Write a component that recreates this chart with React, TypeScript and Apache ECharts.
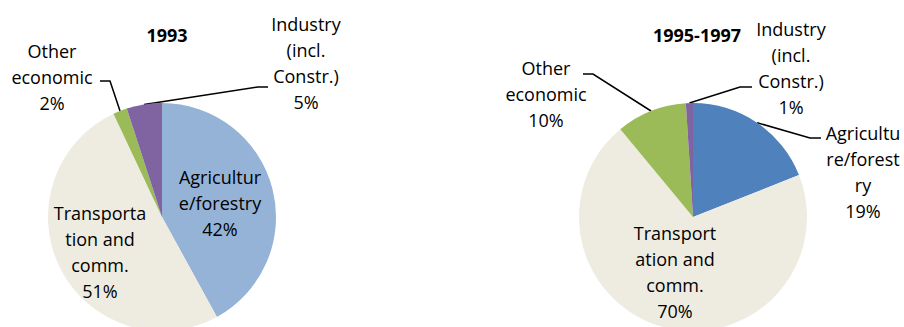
import React, { useEffect, useRef } from "react";
import * as echarts from "echarts";

const titles = ["1993", "1995-1997"];
const categories = [
  "Agriculture/forestry",
  "Transportation and comm.",
  "Other economic",
  "Industry (incl. Constr.)",
];
// Wrapped label text as shown in each pie
const labels1993 = ["Agricultur\ne/forestry", "Transporta\ntion and\ncomm.", "Other\neconomic", "Industry\n(incl.\nConstr.)"];
const labels1995 = ["Agricultu\nre/forest\nry", "Transport\nation and\ncomm.", "Other\neconomic", "Industry\n(incl.\nConstr.)"];
const values1993 = [42, 51, 2, 5];
const values1995 = [19, 70, 10, 1];

const colors1993 = ["#95B3D7", "#EEECE1", "#9BBB59", "#8064A2"];
const colors1995 = ["#4F81BD", "#EEECE1", "#9BBB59", "#8064A2"];

type Place = { x: number; y: number; elbow?: number[]; end?: number[] };
const place1993: Place[] = [
  { x: 220, y: 203 },
  { x: 100, y: 252 },
  { x: 52, y: 77, elbow: [110, 81], end: [100, 81] },
  { x: 306, y: 63, elbow: [258, 87], end: [268, 87] },
];
const place1995: Place[] = [
  { x: 863, y: 172, elbow: [810, 138], end: [821, 138] },
  { x: 675, y: 272 },
  { x: 546, y: 94, elbow: [593, 74], end: [583, 74] },
  { x: 791, y: 68, elbow: [740, 87], end: [752, 87] },
];

const FONT = "'Open Sans', 'Liberation Sans', sans-serif";

function makeSeries(
  values: number[],
  labels: string[],
  colors: string[],
  center: string[],
  place: Place[]
) {
  return {
    type: "pie",
    center,
    radius: 114,
    startAngle: 90,
    clockwise: true,
    avoidLabelOverlap: false,
    silent: true,
    itemStyle: { borderWidth: 0 },
    label: {
      color: "#000",
      fontFamily: FONT,
      fontSize: 18,
      lineHeight: 26,
      align: "center",
      formatter: (p: any) => `${labels[p.dataIndex]}\n${Math.round(p.percent)}%`,
    },
    labelLine: { show: true, lineStyle: { color: "#000", width: 1.5 } },
    labelLayout: (params: any) => {
      const pl = place[params.dataIndex];
      const res: any = { x: pl.x, y: pl.y, align: "center", verticalAlign: "middle" };
      if (pl.elbow && params.labelLinePoints) {
        res.labelLinePoints = [params.labelLinePoints[0], pl.elbow, pl.end];
      }
      return res;
    },
    data: values.map((v, i) => ({
      name: categories[i],
      value: v,
      itemStyle: { color: colors[i] },
      labelLine: { show: !!place[i].elbow },
    })),
  };
}

export default function App() {
  const ref = useRef<HTMLDivElement>(null);
  useEffect(() => {
    document.body.style.margin = "0";
    const chart = echarts.init(ref.current!, undefined, { renderer: "svg" });
    chart.setOption({
      animation: false,
      backgroundColor: "#fff",
      title: [
        {
          text: titles[0],
          left: 162,
          top: 21,
          textAlign: "center",
          textStyle: { fontFamily: FONT, fontSize: 18, fontWeight: "bold", color: "#000" },
        },
        {
          text: titles[1],
          left: 692,
          top: 21,
          textAlign: "center",
          textStyle: { fontFamily: FONT, fontSize: 18, fontWeight: "bold", color: "#000" },
        },
      ],
      series: [
        makeSeries(values1993, labels1993, colors1993, ["162", "217"], place1993),
        makeSeries(values1995, labels1995, colors1995, ["693", "217"], place1995),
      ],
    });
    return () => chart.dispose();
  }, []);
  return <div ref={ref} style={{ width: 904, height: 327 }} />;
}
